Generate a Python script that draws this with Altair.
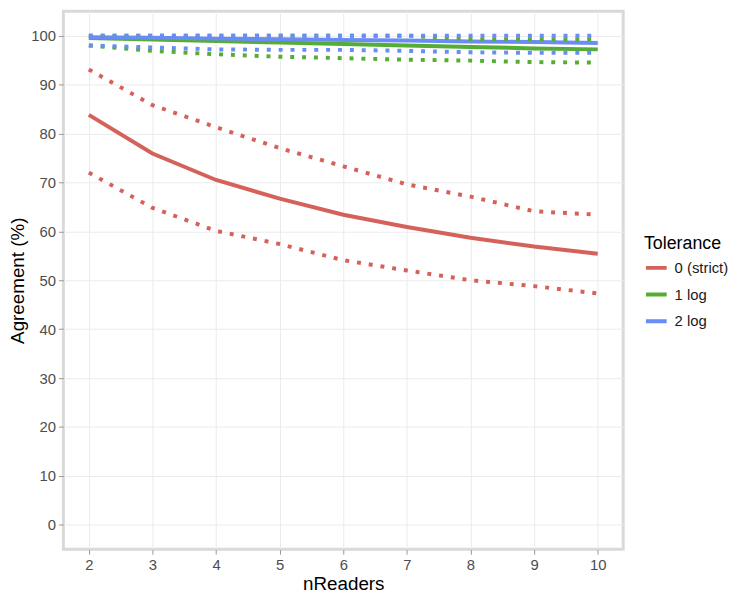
import altair as alt
import pandas as pd

readers = [2, 3, 4, 5, 6, 7, 8, 9, 10]
tolerances = ["0 (strict)", "1 log", "2 log"]

red_mid = [83.8, 75.9, 70.5, 66.7, 63.4, 60.9, 58.7, 56.9, 55.4]
red_hi = [93.1, 85.8, 81.3, 77.0, 73.3, 69.6, 67.1, 64.1, 63.4]
red_lo = [72.0, 64.8, 60.1, 57.4, 54.1, 52.0, 50.0, 48.8, 47.3]

green_mid = [99.5, 99.2, 98.9, 98.6, 98.3, 98.0, 97.7, 97.4, 97.2]
green_hi = [100.0, 100.0, 100.0, 100.0, 100.0, 100.0, 99.3, 99.3, 99.3]
green_lo = [98.0, 96.9, 96.2, 95.7, 95.4, 95.1, 94.9, 94.6, 94.5]

blue_mid = [99.7, 99.6, 99.4, 99.3, 99.1, 99.0, 98.8, 98.7, 98.5]
blue_hi = [100.0, 100.0, 100.0, 100.0, 100.0, 100.0, 100.0, 100.0, 100.0]
blue_lo = [98.0, 97.6, 97.2, 97.1, 97.1, 96.9, 96.6, 96.5, 96.5]

colors = ["#d5625a", "#55ad35", "#6a8cf5"]

rows = []
for tol, mid, hi, lo in [
    (tolerances[0], red_mid, red_hi, red_lo),
    (tolerances[1], green_mid, green_hi, green_lo),
    (tolerances[2], blue_mid, blue_hi, blue_lo),
]:
    for kind, vals in [("mid", mid), ("hi", hi), ("lo", lo)]:
        for n, v in zip(readers, vals):
            rows.append({"nReaders": n, "Agreement": v, "Tolerance": tol, "kind": kind,
                         "series": tol + "_" + kind})
df = pd.DataFrame(rows)

W = 566
H = 544

x = alt.X("nReaders:Q", scale=alt.Scale(domain=[1.6, 10.4], nice=False, zero=False),
          axis=alt.Axis(values=readers, title="nReaders", format="d"))
y = alt.Y("Agreement:Q", scale=alt.Scale(domain=[-5, 105], nice=False),
          axis=alt.Axis(values=list(range(0, 101, 10)), title="Agreement (%)"))
legend = alt.Legend(title="Tolerance", symbolType="stroke",
                    symbolStrokeWidth=4, symbolSize=441, symbolDash=[1, 0],
                    titleFontSize=18, labelFontSize=15,
                    titleFontWeight="normal", titleColor="#000000",
                    labelColor="#1a1a1a", rowPadding=6, labelOffset=6,
                    titlePadding=3, orient="none", legendX=W + 21, legendY=226)
color = alt.Color("Tolerance:N", scale=alt.Scale(domain=tolerances, range=colors),
                  legend=legend)

base = alt.Chart(df)
solid = base.transform_filter(alt.datum.kind == "mid").mark_line(
    strokeWidth=4
).encode(x=x, y=y, color=color, detail="series:N")
dotted = base.transform_filter(alt.datum.kind != "mid").mark_line(
    strokeWidth=4, strokeDash=[4, 8], strokeCap="butt"
).encode(x=x, y=y, color=color, detail="series:N")

chart = alt.layer(solid, dotted).properties(
    width=W, height=H, padding={"left": 0, "top": 0, "right": 0, "bottom": 0}
).configure_view(
    stroke="#d9d9d9", strokeWidth=3
).configure_axis(
    labelFont="Liberation Sans", titleFont="Liberation Sans",
    labelFontSize=15, titleFontSize=19, labelColor="#4d4d4d", titleColor="#000000",
    titleFontWeight="normal", gridColor="#ebebeb", gridWidth=1,
    domain=False, tickColor="#999999", tickSize=5, labelPadding=3, titlePadding=3
).configure_legend(
    labelFont="Liberation Sans", titleFont="Liberation Sans"
)

chart.save("out.html", embed_options={"renderer": "svg", "actions": False})
